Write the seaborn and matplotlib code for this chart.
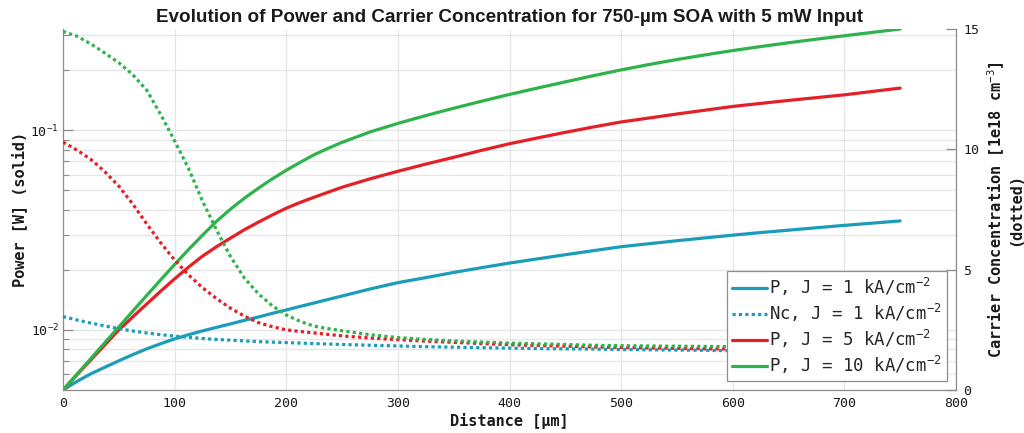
import matplotlib
matplotlib.use("Agg")
import matplotlib.pyplot as plt
import seaborn as sns
from matplotlib.ticker import FixedLocator, NullFormatter, FixedFormatter

# Position along the 750-um amplifier [um] (finer steps where the curves bend)
distance_um = [0, 12.5, 25, 37.5, 50, 62.5, 75, 87.5, 100, 112.5, 125, 137.5, 150,
               162.5, 175, 187.5, 200, 212.5, 225, 237.5, 250, 275, 300, 325, 350,
               375, 400, 425, 450, 475, 500, 525, 550, 575, 600, 625, 650, 675, 700,
               725, 750]

# Optical power [W] for three drive current densities
power_j1 = [0.00500, 0.00552, 0.00603, 0.00650, 0.00700, 0.00752, 0.00804, 0.00853,
            0.00902, 0.00946, 0.00989, 0.01030, 0.01072, 0.01117, 0.01161, 0.01211,
            0.01259, 0.01312, 0.01365, 0.01422, 0.01479, 0.01603, 0.01726, 0.01828,
            0.01941, 0.02051, 0.02163, 0.02270, 0.02382, 0.02495, 0.02612, 0.02704,
            0.02799, 0.02891, 0.02985, 0.03076, 0.03162, 0.03251, 0.03342, 0.03428,
            0.03518]
power_j5 = [0.00500, 0.00596, 0.00708, 0.00841, 0.01000, 0.01161, 0.01349, 0.01563,
            0.01803, 0.02065, 0.02344, 0.02612, 0.02884, 0.03177, 0.03467, 0.03767,
            0.04074, 0.04355, 0.04624, 0.04898, 0.05188, 0.05715, 0.06237, 0.06776,
            0.07328, 0.07943, 0.08570, 0.09162, 0.09772, 0.1040, 0.1102, 0.1153,
            0.1208, 0.1262, 0.1318, 0.1365, 0.1413, 0.1459, 0.1507, 0.1567, 0.1629]
power_j10 = [0.00500, 0.00600, 0.00719, 0.00863, 0.01035, 0.01242, 0.01489, 0.01782,
             0.02128, 0.02529, 0.02985, 0.03499, 0.04027, 0.04571, 0.05129, 0.05715,
             0.06310, 0.06918, 0.07551, 0.08128, 0.08710, 0.09817, 0.1084, 0.1186,
             0.1291, 0.1400, 0.1514, 0.1629, 0.1750, 0.1879, 0.2009, 0.2138, 0.2265,
             0.2388, 0.2512, 0.2630, 0.2748, 0.2864, 0.2979, 0.3097, 0.3221]

# Carrier concentration [1e18 cm^-3]
carriers_j1 = [3.05, 2.91, 2.78, 2.66, 2.55, 2.45, 2.37, 2.30, 2.24, 2.19, 2.14, 2.10,
               2.07, 2.04, 2.01, 1.99, 1.97, 1.95, 1.93, 1.91, 1.89, 1.86, 1.83, 1.80,
               1.78, 1.76, 1.74, 1.72, 1.71, 1.70, 1.68, 1.67, 1.66, 1.65, 1.63, 1.62,
               1.61, 1.60, 1.59, 1.58, 1.57]
carriers_j5 = [10.3, 9.97, 9.58, 9.07, 8.47, 7.73, 6.90, 6.12, 5.40, 4.78, 4.25, 3.80,
               3.40, 3.07, 2.80, 2.63, 2.50, 2.43, 2.37, 2.31, 2.25, 2.16, 2.09, 2.03,
               1.98, 1.93, 1.88, 1.85, 1.82, 1.79, 1.77, 1.75, 1.73, 1.71, 1.70, 1.68,
               1.67, 1.66, 1.65, 1.64, 1.63]
carriers_j10 = [14.9, 14.7, 14.38, 14.0, 13.6, 13.1, 12.46, 11.45, 10.35, 9.20, 7.85,
                6.65, 5.55, 4.65, 4.00, 3.50, 3.12, 2.85, 2.65, 2.55, 2.46, 2.30, 2.18,
                2.10, 2.04, 1.99, 1.95, 1.92, 1.89, 1.86, 1.84, 1.83, 1.82, 1.81, 1.80,
                1.79, 1.78, 1.77, 1.76, 1.75, 1.74]

legend_labels = ["P, J = 1 kA/cm$^{-2}$", "Nc, J = 1 kA/cm$^{-2}$",
                 "P, J = 5 kA/cm$^{-2}$", "P, J = 10 kA/cm$^{-2}$"]
x_ticks = [0, 100, 200, 300, 400, 500, 600, 700, 800]
right_ticks = [0, 5, 10, 15]

BLUE, RED, GREEN = "#1a9db9", "#e41f26", "#2db34a"
AXIS_GREY = "#8c8c8c"
GRID_GREY = "#e6e6e6"
TEXT = "#1a1a1a"

sns.set_style("white")
plt.rcParams["font.family"] = ["DejaVu Sans Mono"]
plt.rcParams["mathtext.fontset"] = "custom"
plt.rcParams["mathtext.rm"] = "DejaVu Sans Mono"
plt.rcParams["mathtext.it"] = "DejaVu Sans Mono:italic"
plt.rcParams["mathtext.bf"] = "DejaVu Sans Mono:bold"

fig = plt.figure(figsize=(10.24, 4.33), dpi=100)
ax = fig.add_axes([63 / 1024, 43 / 433, 893 / 1024, 361 / 433])
ax2 = ax.twinx()

solid_lw = 2.3
dot_style = (0, (1, 1))

sns.lineplot(x=distance_um, y=power_j1, ax=ax, color=BLUE, linewidth=solid_lw, legend=False)
sns.lineplot(x=distance_um, y=power_j5, ax=ax, color=RED, linewidth=solid_lw, legend=False)
sns.lineplot(x=distance_um, y=power_j10, ax=ax, color=GREEN, linewidth=solid_lw, legend=False)

sns.lineplot(x=distance_um, y=carriers_j1, ax=ax2, color=BLUE, linewidth=solid_lw,
             linestyle=dot_style, legend=False)
sns.lineplot(x=distance_um, y=carriers_j5, ax=ax2, color=RED, linewidth=solid_lw,
             linestyle=dot_style, legend=False)
sns.lineplot(x=distance_um, y=carriers_j10, ax=ax2, color=GREEN, linewidth=solid_lw,
             linestyle=dot_style, legend=False)

# Left axis: logarithmic power
ax.set_yscale("log")
ax.set_xlim(0, 800)
ax.set_ylim(power_j1[0], max(power_j10))
ax.yaxis.set_major_locator(FixedLocator([0.01, 0.1]))
ax.yaxis.set_major_formatter(FixedFormatter([r"$\mathregular{10^{-2}}$",
                                             r"$\mathregular{10^{-1}}$"]))
minor = [m * d for d in (0.001, 0.01, 0.1) for m in range(2, 10)]
ax.yaxis.set_minor_locator(FixedLocator(minor))
ax.yaxis.set_minor_formatter(NullFormatter())
ax.set_xticks(x_ticks)
ax.grid(True, which="both", axis="y", color=GRID_GREY, linewidth=0.9)
ax.grid(True, which="major", axis="x", color=GRID_GREY, linewidth=0.9)
ax.set_axisbelow(True)

ax.tick_params(axis="both", which="major", direction="in", length=7, width=0.9,
               color=AXIS_GREY, labelcolor=TEXT, labelsize=9.5)
ax.tick_params(axis="y", which="minor", direction="in", length=4, width=0.8,
               color=AXIS_GREY)
ax.tick_params(axis="x", pad=5)
ax.tick_params(axis="y", which="major", pad=3)

# Right axis: carrier density
ax2.set_ylim(0, 15)
ax2.set_yticks(right_ticks)
ax2.tick_params(axis="y", direction="in", length=7, width=0.9, color=AXIS_GREY,
                labelcolor=TEXT, labelsize=9.5, pad=5)

for a in (ax, ax2):
    a.spines["top"].set_visible(False)
    for s in ("left", "bottom", "right"):
        a.spines[s].set_color(AXIS_GREY)
        a.spines[s].set_linewidth(0.9)
ax.spines["right"].set_visible(False)
ax2.spines["left"].set_visible(False)
ax2.spines["bottom"].set_visible(False)

ax.set_xlabel("Distance [µm]", fontsize=11, fontweight="bold", color=TEXT, labelpad=2)
ax.set_ylabel("Power [W] (solid)", fontsize=11, fontweight="bold", color=TEXT, labelpad=2)
ax2.set_ylabel("Carrier Concentration [1e18 cm$^{-3}$]\n(dotted)", fontsize=11,
               fontweight="bold", color=TEXT, labelpad=5, linespacing=1.05)

fig.text(509.5 / 1024, 1 - 17 / 433,
         "Evolution of Power and Carrier Concentration for 750-µm SOA with 5 mW Input",
         fontsize=13.6, fontweight="bold", family="Liberation Sans", color=TEXT,
         ha="center", va="center")

handles = [ax.lines[0], ax2.lines[0], ax.lines[1], ax.lines[2]]
leg = ax2.legend(handles, legend_labels, loc="lower right", fontsize=12.5,
                 frameon=True, fancybox=False, framealpha=1, edgecolor=AXIS_GREY,
                 handlelength=2.0, handletextpad=0.15, borderpad=0.3,
                 labelspacing=0.22, borderaxespad=0.5)
leg.get_frame().set_linewidth(0.9)

fig.savefig("out.png", dpi=100)
